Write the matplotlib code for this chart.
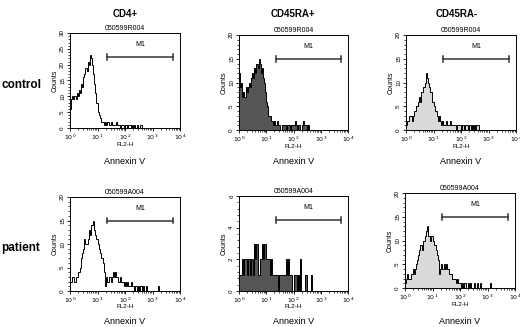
import numpy as np
import matplotlib
matplotlib.use("Agg")
import matplotlib.pyplot as plt
from matplotlib.ticker import MultipleLocator, FixedLocator, NullFormatter

plt.rcParams['font.family'] = ['Liberation Sans', 'DejaVu Sans']

# histogram counts per log-channel bin (bin width 0.04 decade, starting at 10^0)
BIN_W = 0.04

control_cd4 = [6, 9, 10, 9, 10, 9, 11, 10, 12, 11, 14, 13, 16, 17, 19, 18, 21, 20,
               23, 22, 20, 17, 14, 11, 8, 5, 4, 3, 2, 2, 2, 1, 2,
               1, 2, 1, 1, 2, 1, 1, 1, 1, 2, 1, 1, 0, 1, 1, 1, 0, 1,
               1, 0, 1, 1, 0, 1, 0, 1, 0, 0, 1, 0, 0, 1, 0, 0, 0, 0]
control_ra_pos = [12, 9, 10, 7, 8, 7, 9, 8, 9, 10, 9, 11, 12, 11, 13, 12, 14, 13,
                  15, 14, 12, 13, 11, 10, 8, 6, 5, 3, 3, 2, 2, 1, 2,
                  1, 1, 2, 1, 1, 0, 1, 1, 1, 1, 0, 1, 1, 1, 0, 1, 1, 1,
                  2, 1, 0, 1, 1, 0, 0, 1, 2, 1, 1, 0, 1, 0, 0, 0, 0, 0]
control_ra_neg = [1, 2, 2, 3, 3, 2, 3, 4, 4, 5, 5, 6, 7, 6, 8, 9, 9, 10,
                  12, 11, 10, 9, 8, 8, 6, 5, 4, 4, 3, 2, 3, 2, 1,
                  2, 1, 1, 2, 1, 1, 1, 2, 1, 1, 1, 1, 0, 1, 1, 1, 1, 0,
                  1, 1, 0, 1, 1, 0, 1, 1, 0, 1, 0, 1, 0, 1, 1, 0, 0, 0, 0, 0]
patient_cd4 = [2, 2, 3, 3, 2, 3, 3, 4, 4, 5, 7, 8, 9, 11, 10, 10, 11, 13,
               12, 14, 14, 15, 13, 12, 11, 10, 9, 8, 7, 7, 6, 4, 1,
               3, 2, 3, 3, 2, 3, 4, 3, 4, 3, 3, 2, 3, 2, 2, 2, 1, 2,
               1, 2, 1, 1, 2, 1, 1, 0, 1, 1, 0, 1, 0, 1, 0, 1, 0, 0, 1,
               0, 0, 0, 0, 0, 0, 0, 0, 0, 0, 1, 0]
patient_ra_pos = [1, 1, 1, 2, 1, 2, 2, 1, 2, 2, 1, 2, 2, 1, 3, 2, 3, 1,
                  1, 2, 2, 3, 2, 3, 3, 2, 2, 2, 1, 2, 1, 1, 1,
                  1, 1, 1, 0, 1, 1, 1, 1, 1, 1, 2, 1, 2, 1, 1, 1, 0,
                  1, 1, 1, 0, 1, 0, 2, 0, 0, 0, 0, 1, 0, 0, 0, 0, 1, 0]
patient_ra_neg = [1, 2, 3, 2, 2, 3, 3, 4, 3, 4, 5, 6, 7, 8, 9, 8, 10, 10,
                  11, 12, 13, 11, 11, 10, 11, 10, 9, 9, 8, 7, 6, 3, 4,
                  5, 4, 5, 4, 5, 4, 4, 3, 3, 3, 2, 2, 2, 1, 2, 1, 1, 1,
                  0, 1, 0, 1, 0, 0, 1, 0, 1, 0, 0, 0, 1, 0, 1, 0, 0, 1,
                  0, 0, 0, 0, 0, 0, 0, 0, 1, 0]

col_titles = ["CD4+", "CD45RA+", "CD45RA-"]
row_titles = ["control", "patient"]
file_names = ["050599R004", "050599A004"]
y_max = [[30, 20, 20], [20, 6, 20]]
y_major = [[5, 5, 5], [5, 2, 5]]
y_minor = [[1, 1, 1], [1, 0.4, 1]]
fills = [None, '#555555', '#d9d9d9']
m1_start, m1_end = 22, 5500

data = [[control_cd4, control_ra_pos, control_ra_neg],
        [patient_cd4, patient_ra_pos, patient_ra_neg]]

# pixel boxes (left, top, right, bottom)
boxes = [[(70, 33, 180, 128), (239, 35, 348, 130), (406, 35, 516, 130)],
         [(70, 197, 180, 291), (239, 196, 348, 291), (405, 193, 515, 288)]]
annexin_y = [162, 321]

W, H = 520, 327
fig = plt.figure(figsize=(W / 100, H / 100), dpi=100)

for r in range(2):
    for c in range(3):
        l, t, rr, b = boxes[r][c]
        ax = fig.add_axes([l / W, 1 - b / H, (rr - l) / W, (b - t) / H])
        counts = np.array(data[r][c], dtype=float)
        edges = 10 ** (np.arange(len(counts) + 1) * BIN_W)
        if fills[c] is not None:
            ax.stairs(counts, edges, fill=True, color=fills[c], lw=0)
        ax.stairs(counts, edges, color='black', lw=0.7, baseline=0)
        ax.set_xscale('log')
        ax.set_xlim(1, 1e4)
        ax.set_ylim(0, y_max[r][c])
        ax.yaxis.set_major_locator(MultipleLocator(y_major[r][c]))
        ax.yaxis.set_minor_locator(MultipleLocator(y_minor[r][c]))
        ax.xaxis.set_major_locator(FixedLocator([1, 10, 100, 1000, 10000]))
        ax.set_xticklabels([r'$10^0$', r'$10^1$', r'$10^2$', r'$10^3$', r'$10^4$'])
        ax.xaxis.set_minor_formatter(NullFormatter())
        ax.tick_params(axis='both', labelsize=4.5, length=2.5, width=0.6, pad=1)
        ax.tick_params(axis='both', which='minor', length=1.5, width=0.5)
        for lab in ax.get_yticklabels():
            lab.set_rotation(90)
            lab.set_va('center')
        for sp in ax.spines.values():
            sp.set_linewidth(0.7)
        ax.set_ylabel("Counts", fontsize=5, labelpad=1)
        ax.set_title(file_names[r], fontsize=5, pad=2)
        fig.text((l + rr) / 2 / W, 1 - (b + 16) / H, "FL2-H", fontsize=4.5,
                 ha='center', va='center')
        fig.text((l + rr) / 2 / W, 1 - annexin_y[r] / H, "Annexin V", fontsize=6.5,
                 ha='center', va='center')

        # M1 marker bar
        yb = 0.75 * y_max[r][c]
        ax.plot([m1_start, m1_end], [yb, yb], color='#333333', lw=1.1)
        cap = 0.03 * y_max[r][c]
        for xe in (m1_start, m1_end):
            ax.plot([xe, xe], [yb - cap, yb + cap], color='#333333', lw=1.1)
        ax.text(np.sqrt(m1_start * m1_end), 0.88 * y_max[r][c], "M1",
                fontsize=5, ha='center', va='center')

col_x = [125, 293, 457]
for c in range(3):
    fig.text(col_x[c] / W, 1 - 14 / H, col_titles[c], fontsize=7, weight='bold',
             ha='center', va='center')
row_y = [85, 248]
for r in range(2):
    fig.text(1 / W, 1 - row_y[r] / H, row_titles[r], fontsize=8.5, weight='bold',
             ha='left', va='center')

fig.savefig("out.png", dpi=100)
